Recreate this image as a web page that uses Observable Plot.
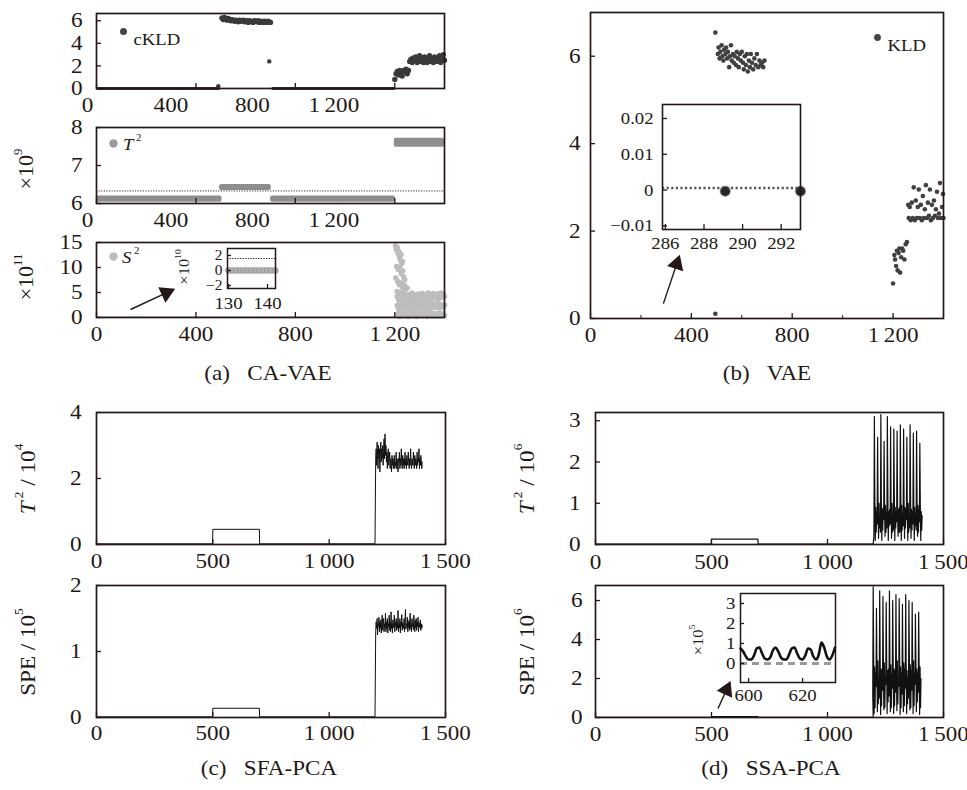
<!DOCTYPE html>
<html><head><meta charset="utf-8">
<script src="https://cdn.jsdelivr.net/npm/d3@7"></script>
<script src="https://cdn.jsdelivr.net/npm/@observablehq/plot@0.6"></script>
<style>
body{margin:0;background:#fff;}
#chart{position:relative;width:967px;height:790px;overflow:hidden;background:#fff;}
#chart svg{position:absolute;left:0;top:0;}
</style></head><body><div id="chart"></div>
<script>
// ---------------- DATA ----------------
// (a) CA-VAE : cKLD
const aXTicks = [0, 400, 800, 1200];
const aKldZeroSegs = [[0, 495], [705, 1200]];
const aKldClusterX = d3.range(505, 701, 5);
const aKldClusterY = [6.25,6.1,6.3,6.15,6.05,6.2,6.1,6.0,6.1,6.05,5.95,6.05,6.0,5.9,6.05,5.95,6.0,6.05,5.9,5.95,6.0,5.85,6.0,5.95,5.9,5.85,6.0,5.95,5.9,6.0,5.85,5.95,5.9,5.85,5.95,5.9,5.85,5.95,5.9,5.85];
const aKldOutX = [490, 695];
const aKldOutY = [0.2, 2.4];
const aKldFaultX = d3.range(1200, 1401, 5);
const aKldFaultY = [0.8,1.3,1.5,1.2,1.6,1.4,1.1,1.6,1.5,1.7,1.3,1.6,2.4,2.6,2.3,2.7,2.5,2.8,2.3,2.6,2.9,2.4,2.7,2.3,2.8,2.5,2.3,2.7,2.9,2.4,2.6,2.3,2.8,2.5,2.4,2.7,2.9,2.3,2.6,3.0,2.5];
// (a) T^2 (x10^9): bands of points
const aT2BandX1 = [0, 495, 700, 1198];
const aT2BandX2 = [505, 703, 1203, 1400];
const aT2BandLo = [6.03, 6.34, 6.03, 7.48];
const aT2BandHi = [6.2, 6.5, 6.2, 7.72];
const aT2Limit = 6.33;
// (a) S^2 (x10^11)
const aS2HighX = [1203,1206,1210,1213,1216,1219,1222,1225,1228,1231,1208,1214,1220,1226,1232,1236,1240,1204,1212,1218,1224,1230,1238,1244,1250,1210,1222,1234,1246];
const aS2HighY = [14.3,13.6,14.0,12.8,13.2,12.1,11.5,12.6,10.8,11.2,10.2,9.6,9.9,8.8,9.3,8.1,7.6,7.9,7.2,6.6,6.9,6.1,6.5,5.7,5.9,5.2,4.9,5.4,4.6];
const aS2BandX = d3.range(1210, 1401, 5);
const aS2Upper = [4.2,3.6,4.8,3.1,4.4,3.9,4.7,3.3,4.1,4.6,3.5,4.3,4.9,3.8,4.5,3.2,4.0,4.7,3.6,4.4,4.8,3.4,4.2,4.6,3.7,4.9,4.1,3.5,4.5,4.8,3.9,4.3,4.7,3.6,4.4,4.9,4.0,4.6,4.2];
const aS2Mid = [2.4,1.8,2.9,2.1,2.6,1.5,3.0,2.2,1.9,2.7,2.3,1.6,2.8,2.0,2.5,1.7,2.9,2.2,2.6,1.9,2.4,2.8,2.1,1.7,2.6,2.3,2.9,1.8,2.5,2.2,2.7,2.0,2.4,2.8,1.9,2.6,2.3,2.1,2.5];
const aS2Low = [0.4,0.9,0.2,0.7,0.5,1.1,0.3,0.8,0.6,0.2,1.0,0.4,0.7,0.3,0.9,0.5,0.2,0.8,0.6,1.1,0.3,0.7,0.4,0.9,0.2,0.6,1.0,0.5,0.3,0.8,0.4,0.7,0.2,0.9,0.5,0.3,0.8,0.6,0.4];
// (a) inset (x10^10)
const aInX = d3.range(130, 143);
const aInY = [0,0,0,0,0,0,0,0,0,0,0,0,0];
const aInLimit = 1.6;
const aArrow = {x1: 137, y1: 1.6, x2: 310, y2: 5.6};

// (b) VAE : KLD
const bXTicks = [0, 400, 800, 1200];
const bXMinor = [200, 600, 1000];
const bOutX = [495, 495];
const bOutY = [0.11, 6.54];
const bClusterX = [505,508,512,515,520,523,527,530,535,538,542,545,550,553,557,560,565,568,572,577,580,585,588,592,596,600,605,608,612,616,620,624,628,632,636,640,645,650,655,660,665,670,675,680,685,690];
const bClusterY = [6.05,6.2,5.95,6.1,6.25,6.0,5.9,6.15,6.05,6.2,5.95,6.1,5.75,6.0,6.25,5.9,6.05,5.85,6.0,5.8,6.1,5.95,5.75,6.05,5.9,6.1,5.85,5.7,6.0,5.8,6.05,5.65,5.9,5.75,6.05,5.85,5.7,5.95,5.8,6.05,5.75,5.9,5.8,5.85,5.75,5.9];
const bFaultX = [1200,1205,1208,1212,1215,1218,1222,1225,1228,1232,1236,1240,1245,1250,1255,1260,1262,1266,1270,1274,1278,1282,1286,1290,1294,1298,1302,1306,1310,1314,1318,1322,1326,1330,1334,1338,1342,1346,1350,1354,1358,1362,1366,1370,1374,1378,1382,1386,1390,1394,1398,1400];
const bFaultY = [0.8,1.45,1.35,1.2,1.55,1.1,1.5,1.6,1.05,1.4,1.6,1.55,1.35,1.7,1.75,2.6,2.3,2.55,2.25,2.65,2.3,3.0,2.25,2.7,2.3,2.55,2.95,2.3,2.6,2.25,2.8,2.3,2.5,3.05,2.3,2.65,2.35,2.95,2.25,2.6,2.3,2.7,2.35,2.5,2.9,2.3,2.4,3.1,2.3,2.55,2.85,2.3];
// (b) inset
const bInLevel = 0.0006;
const bInPtsX = [289.1, 293.0];
const bInPtsY = [-0.0003, -0.0003];
const bArrow = {x1: 289, y1: 0.34, x2: 352, y2: 1.42};

// (c) SFA-PCA
const cdXTicks = [0, 500, 1000, 1500];
const cStepX = [0, 499, 500, 700, 701, 1197];
const cT2StepY = [0.02, 0.02, 0.46, 0.46, 0.02, 0.02];
const cT2Fault = [2.6,2.9,2.4,3.1,2.7,2.3,3.0,2.6,2.9,2.2, 2.8,3.1,2.5,2.9,2.6,3.0,2.4,2.8,3.2,2.6, 3.35,2.7,3.0,2.5,2.8,2.3,2.7,2.9,2.4,2.6, 2.8,2.3,2.6,2.5,2.2,2.7,2.4,2.6,2.3,2.5, 2.7,2.3,2.5,2.4,2.8,2.3,2.6,2.4,2.2,2.6, 2.5,2.8,2.3,2.6,2.4,2.9,2.5,2.3,2.7,2.4, 2.6,2.3,2.5,2.8,2.4,2.6,2.3,2.7,2.5,2.4, 2.8,2.5,2.3,2.6,2.4,2.9,2.5,2.3,2.6,2.5, 2.4,2.8,2.5,2.3,2.7,2.4,2.6,2.5,2.3,2.8, 2.4,2.6,2.5,2.9,2.3,2.6,2.4,2.7,2.5,2.3, 2.5];
const cSpeStepY = [0.01, 0.01, 0.14, 0.14, 0.01, 0.01];
const cSpeFault = [1.3,1.45,1.35,1.5,1.25,1.42,1.38,1.52,1.3,1.45, 1.35,1.48,1.28,1.44,1.55,1.32,1.4,1.5,1.3,1.42, 1.36,1.58,1.3,1.45,1.35,1.5,1.28,1.42,1.38,1.55, 1.32,1.45,1.3,1.6,1.35,1.42,1.28,1.48,1.36,1.4, 1.55,1.3,1.44,1.38,1.5,1.32,1.45,1.35,1.62,1.3, 1.42,1.36,1.5,1.28,1.45,1.38,1.56,1.32,1.44,1.4, 1.35,1.5,1.3,1.46,1.64,1.34,1.42,1.38,1.52,1.3, 1.45,1.36,1.48,1.32,1.58,1.35,1.42,1.3,1.5,1.38, 1.44,1.33,1.55,1.4,1.3,1.47,1.36,1.5,1.32,1.45, 1.38,1.52,1.3,1.44,1.4,1.36,1.48,1.32,1.42,1.35, 1.4];

// (d) SSA-PCA
const dStepX = [0, 499, 500, 700, 701, 1197];
const dT2StepY = [0.01, 0.01, 0.13, 0.13, 0.01, 0.01];
const dT2Fault = [0.2,3.1,1.2,0.1,0.9,0.3,0.8, 0.5,2.6,0.9,0.15,1.0,0.4,0.7, 0.3,3.15,1.1,0.1,0.85,0.35,0.9, 0.6,2.5,1.0,0.2,0.95,0.3,0.75, 0.4,3.1,1.3,0.1,0.8,0.45,0.85, 0.5,2.85,1.0,0.15,1.0,0.3,0.7, 0.35,2.8,1.2,0.1,0.9,0.4,0.8, 0.55,2.75,0.95,0.2,0.85,0.3,0.9, 0.3,2.9,1.15,0.1,0.95,0.35,0.75, 0.45,2.8,1.05,0.15,0.9,0.4,0.85, 0.6,2.6,0.9,0.1,1.0,0.3,0.7, 0.4,2.9,1.2,0.15,0.85,0.35,0.8, 0.5,2.7,1.0,0.1,0.9,0.45,0.75, 0.35,2.75,1.1,0.2,0.95,0.3,0.85, 0.55,2.45,0.95,0.1,0.8,0.35,0.7];
const dSpeStepY = [0.01, 0.01, 0.04, 0.04, 0.01, 0.01];
const dSpeFault = [1.2,6.7,2.9,0.2,2.6,0.5,2.3, 1.6,5.6,2.7,0.3,2.9,0.7,2.0, 1.0,6.5,3.0,0.15,2.5,0.6,2.4, 1.4,6.2,2.6,0.4,2.8,0.5,2.1, 1.7,5.9,2.9,0.2,2.4,0.8,2.5, 1.1,6.5,2.8,0.3,2.7,0.5,2.2, 1.5,6.0,3.0,0.2,2.5,0.6,2.4, 1.3,6.3,2.7,0.35,2.9,0.7,2.0, 1.6,6.1,2.9,0.15,2.6,0.5,2.3, 1.2,5.8,2.6,0.3,2.8,0.6,2.5, 1.5,6.3,3.0,0.2,2.4,0.7,2.1, 1.0,6.0,2.8,0.4,2.7,0.5,2.4, 1.4,5.9,2.7,0.2,2.9,0.6,2.2, 1.7,5.3,2.9,0.3,2.5,0.8,2.3, 1.3,5.4,2.6,0.15,2.6,0.5,2.0];
// (d) inset (x10^5)
const dInX = d3.range(597, 633);
const dInY = [0.75,0.6,0.35,0.2,0.2,0.4,0.75,0.8,0.5,0.25, 0.2,0.3,0.65,0.8,0.6,0.3,0.2,0.2,0.45,0.75, 0.8,0.5,0.25,0.2,0.4,0.75,0.7,0.35,0.2,0.45, 1.05,0.8,0.35,0.2,0.4,0.8];
const dInThreshold = 0;
const dArrow = {x1: 528, y1: 0.46, x2: 579, y2: 1.79};

// ---------------- HELPERS ----------------
const W = 967, H = 790;
const FONT = "'Liberation Serif','Times New Roman',serif";
const INK = "#231815";
const STRETCH = 1.1;
const rows = (xs, ys) => xs.map((x, i) => ({x, y: ys[i]}));
const seq = (x0, step, ys) => ys.map((y, i) => ({x: x0 + i * step, y}));
const fmtNum = d => {
  const s = String(Math.abs(d));
  const t = Math.abs(d) >= 1000 ? s.replace(/(\d)(\d{3})$/, "$1\u2009$2") : s;
  return d < 0 ? "\u2212" + t : t;
};
const chart = document.getElementById("chart");
const svgs = [];

function arrowMarks(box, xd, yd, a) {
  const sx = d3.scaleLinear(xd, [box[0], box[2]]);
  const sy = d3.scaleLinear(yd, [box[3], box[1]]);
  const p1 = [sx(a.x1), sy(a.y1)], p2 = [sx(a.x2), sy(a.y2)];
  const dx = p2[0] - p1[0], dy = p2[1] - p1[1], len = Math.hypot(dx, dy);
  const back = 8;
  const head = {x: sx.invert(p2[0] - dx / len * back), y: sy.invert(p2[1] - dy / len * back)};
  const rot = Math.atan2(dx, -dy) * 180 / Math.PI;
  return [
    Plot.link([a], {x1: "x1", y1: "y1", x2: () => head.x, y2: () => head.y, stroke: INK, strokeWidth: 1.4}),
    Plot.dot([head], {x: "x", y: "y", symbol: "triangle", r: 6.3, fill: INK, stroke: "none", rotate: rot})
  ];
}

function panel(o) {
  const [x0, y0, x1, y1] = o.box;
  const fs = o.fontSize ?? 21;
  const tk = o.tick ?? 5;
  const marks = [];
  if (o.fill) marks.push(Plot.frame({fill: "white", stroke: "none"}));
  marks.push(...o.marks);
  // inward tick marks
  marks.push(Plot.axisX({ticks: o.xTicks, tickSize: tk, dy: -tk, tickFormat: () => "", label: null, stroke: INK, strokeWidth: 1.3}));
  if (o.xMinor) marks.push(Plot.axisX({ticks: o.xMinor, tickSize: 3, dy: -3, tickFormat: () => "", label: null, stroke: INK, strokeWidth: 1}));
  marks.push(Plot.axisY({ticks: o.yTicks, tickSize: tk, dx: tk, tickFormat: () => "", label: null, stroke: INK, strokeWidth: 1.3}));
  // tick labels
  if (o.xShift) {
    o.xTicks.forEach((v, i) => marks.push(Plot.axisX({ticks: [v], tickSize: 0, tickPadding: o.padX ?? 9, dx: o.xShift[i], tickFormat: fmtNum, fontSize: fs, label: null})));
  } else {
    marks.push(Plot.axisX({ticks: o.xTicks, tickSize: 0, tickPadding: o.padX ?? 9, tickFormat: fmtNum, fontSize: fs, label: null}));
  }
  marks.push(Plot.axisY({ticks: o.yTicks, tickSize: 0, tickPadding: o.padY ?? 14, tickFormat: fmtNum, fontSize: o.yFontSize ?? fs, label: null}));
  marks.push(Plot.frame({stroke: INK, strokeWidth: o.frameWidth ?? 1.7}));
  const svg = Plot.plot({
    width: W, height: H,
    marginLeft: x0, marginTop: y0, marginRight: W - x1, marginBottom: H - y1,
    x: {domain: o.xDomain, axis: null},
    y: {domain: o.yDomain, axis: null},
    style: {background: "none", fontFamily: FONT, fontSize: fs + "px", color: INK, overflow: "visible"},
    marks
  });
  chart.append(svg);
  svgs.push(svg);
  return svg;
}

function rich(svg, {x, y, parts, size = 21, anchor = "middle", rotate = 0}) {
  const t = d3.select(svg).append("text")
    .attr("transform", `translate(${x},${y}) rotate(${rotate})`)
    .attr("text-anchor", anchor).attr("font-size", size).attr("font-family", FONT)
    .attr("fill", INK).attr("dominant-baseline", "central").style("white-space", "pre");
  let shift = 0;
  for (const p of parts) {
    const s = t.append("tspan").text(p.t);
    if (p.i) s.attr("font-style", "italic");
    const target = p.sup ? -size * 0.42 : 0;
    if (target !== shift) { s.attr("dy", target - shift); shift = target; }
    if (p.sup) s.attr("font-size", size * 0.58);
  }
}

// ---------------- PANELS ----------------
const shiftA = [-9, -25, -43, -61];

// (a) top: cKLD
const boxA1 = [96, 13, 444, 88];
panel({box: boxA1, xDomain: [0, 1400], yDomain: [0, 6.64], xTicks: aXTicks, yTicks: [0, 2, 4, 6], xShift: shiftA, padX: 9, marks: [
  Plot.link(aKldZeroSegs, {x1: d => d[0], x2: d => d[1], y1: 0, y2: 0, stroke: "#333", strokeWidth: 3}),
  Plot.dot(rows(aKldClusterX, aKldClusterY), {x: "x", y: "y", r: 2.7, fill: "#3a3a3a"}),
  Plot.dot(rows(aKldOutX, aKldOutY), {x: "x", y: "y", r: 2.2, fill: "#3a3a3a"}),
  Plot.dot(rows(aKldFaultX, aKldFaultY), {x: "x", y: "y", r: 2.7, fill: "#3a3a3a"}),
  Plot.dot([0], {frameAnchor: "top-left", dx: 27, dy: 18, r: 3.5, fill: "#444"}),
  Plot.text(["cKLD"], {frameAnchor: "top-left", dx: 37, dy: 19, textAnchor: "start", fontSize: 17, fill: INK})
]});

// (a) middle: T^2
const boxA2 = [96, 127, 444, 203];
const svgA2 = panel({box: boxA2, xDomain: [0, 1400], yDomain: [6, 8], xTicks: aXTicks, yTicks: [6, 7, 8], xShift: shiftA, padX: 9, marks: [
  Plot.rect(aT2BandX1.map((x, i) => ({x1: x, x2: aT2BandX2[i], y1: aT2BandLo[i], y2: aT2BandHi[i]})), {x1: "x1", x2: "x2", y1: "y1", y2: "y2", fill: "#8e8e8e", rx: 2}),
  Plot.ruleY([aT2Limit], {stroke: "#333", strokeWidth: 1, strokeDasharray: "1.2,1.4"}),
  Plot.dot([0], {frameAnchor: "top-left", dx: 17, dy: 16, r: 4.2, fill: "#9a9a9a"})
]});
rich(svgA2, {x: 123, y: 144, anchor: "start", size: 17, parts: [{t: "T", i: true}, {t: " 2", sup: true}]});
rich(svgA2, {x: 26, y: 169, rotate: -90, size: 20, parts: [{t: "×10"}, {t: "9", sup: true}]});

// (a) bottom: S^2
const boxA3 = [96, 242, 444, 317];
const svgA3 = panel({box: boxA3, xDomain: [0, 1400], yDomain: [0, 15], xTicks: aXTicks, yTicks: [0, 5, 10, 15], padX: 9, marks: [
  Plot.link([[0, 1200]], {x1: d => d[0], x2: d => d[1], y1: 0.1, y2: 0.1, stroke: "#ccc", strokeWidth: 2}),
  Plot.dot(rows(aS2BandX, aS2Low), {x: "x", y: "y", r: 2.8, fill: "#bdbdbd"}),
  Plot.dot(rows(aS2BandX, aS2Mid), {x: "x", y: "y", r: 2.8, fill: "#bdbdbd"}),
  Plot.dot(rows(aS2BandX, aS2Upper), {x: "x", y: "y", r: 2.8, fill: "#bdbdbd"}),
  Plot.dot(rows(aS2HighX, aS2HighY), {x: "x", y: "y", r: 2.8, fill: "#bdbdbd"}),
  Plot.dot([0], {frameAnchor: "top-left", dx: 17, dy: 14, r: 4.2, fill: "#bdbdbd"}),
  ...arrowMarks(boxA3, [0, 1400], [0, 15], aArrow)
]});
rich(svgA3, {x: 122, y: 257, anchor: "start", size: 17, parts: [{t: "S", i: true}, {t: " 2", sup: true}]});
rich(svgA3, {x: 26, y: 277, rotate: -90, size: 20, parts: [{t: "×10"}, {t: "11", sup: true}]});

// (a) inset
const boxAIn = [227, 248, 275, 288];
const svgAIn = panel({box: boxAIn, xDomain: [129.74, 142.05], yDomain: [-2.4, 2.93], xTicks: [130, 140], yTicks: [-2, 0, 2], fill: true, fontSize: 17, yFontSize: 14, tick: 4, padX: 8, padY: 5, frameWidth: 1.5, marks: [
  Plot.ruleY([aInLimit], {stroke: "#222", strokeWidth: 1.2, strokeDasharray: "1.3,1.3"}),
  Plot.dot(rows(aInX, aInY), {x: "x", y: "y", r: 3, fill: "#b0b0b0", stroke: "#8a8a8a", strokeWidth: 0.6})
]});
rich(svgAIn, {x: 184, y: 267, rotate: -90, size: 15, parts: [{t: "×10"}, {t: "10", sup: true}]});

// (b) VAE
const boxB = [590, 12, 943, 318];
panel({box: boxB, xDomain: [0, 1400], yDomain: [0, 7], xTicks: bXTicks, xMinor: bXMinor, yTicks: [0, 2, 4, 6], padX: 9, padY: 10, marks: [
  Plot.dot(rows(bClusterX, bClusterY), {x: "x", y: "y", r: 2.3, fill: "#404040"}),
  Plot.dot(rows(bOutX, bOutY), {x: "x", y: "y", r: 2.3, fill: "#404040"}),
  Plot.dot(rows(bFaultX, bFaultY), {x: "x", y: "y", r: 2.3, fill: "#404040"}),
  Plot.dot([0], {frameAnchor: "top-left", dx: 287, dy: 25, r: 3.4, fill: "#444"}),
  Plot.text(["KLD"], {frameAnchor: "top-left", dx: 297, dy: 26, textAnchor: "start", fontSize: 17, fill: INK}),
  ...arrowMarks(boxB, [0, 1400], [0, 7], bArrow)
]});

// (b) inset
const boxBIn = [662, 104, 800, 229];
panel({box: boxBIn, xDomain: [285.85, 293.0], yDomain: [-0.011, 0.0239], xTicks: [286, 288, 290, 292], yTicks: [-0.01, 0, 0.01, 0.02], fill: true, fontSize: 17, tick: 5, padX: 7, padY: 9, frameWidth: 1.6, marks: [
  Plot.ruleY([bInLevel], {stroke: "#555", strokeWidth: 2.6, strokeDasharray: "2.2,2.4"}),
  Plot.dot(rows(bInPtsX, bInPtsY), {x: "x", y: "y", r: 5, fill: "#262626", stroke: "#777", strokeOpacity: 0.5, strokeWidth: 1.5})
]});

// (c) top: T^2/10^4
const boxC1 = [96, 412, 445, 544];
const svgC1 = panel({box: boxC1, xDomain: [0, 1500], yDomain: [0, 4], xTicks: cdXTicks, yTicks: [0, 2, 4], padX: 9, padY: 15, marks: [
  Plot.line([...rows(cStepX, cT2StepY), ...seq(1200, 2, cT2Fault)], {x: "x", y: "y", stroke: "#111", strokeWidth: 1})
]});
rich(svgC1, {x: 28, y: 479, rotate: -90, size: 21, parts: [{t: "T", i: true}, {t: " 2", sup: true}, {t: " / 10"}, {t: "4", sup: true}]});

// (c) bottom: SPE/10^5
const boxC2 = [96, 585, 445, 717];
const svgC2 = panel({box: boxC2, xDomain: [0, 1500], yDomain: [0, 2], xTicks: cdXTicks, yTicks: [0, 1, 2], padX: 8, padY: 15, marks: [
  Plot.line([...rows(cStepX, cSpeStepY), ...seq(1200, 2, cSpeFault)], {x: "x", y: "y", stroke: "#111", strokeWidth: 1})
]});
rich(svgC2, {x: 28, y: 652, rotate: -90, size: 21, parts: [{t: "SPE / 10"}, {t: "5", sup: true}]});

// (d) top: T^2/10^6
const boxD1 = [595, 412, 943, 544];
const svgD1 = panel({box: boxD1, xDomain: [0, 1500], yDomain: [0, 3.2], xTicks: cdXTicks, yTicks: [0, 1, 2, 3], padX: 10, padY: 15, marks: [
  Plot.line([...rows(dStepX, dT2StepY), ...seq(1200, 2, dT2Fault)], {x: "x", y: "y", stroke: "#111", strokeWidth: 1.2})
]});
rich(svgD1, {x: 527, y: 479, rotate: -90, size: 21, parts: [{t: "T", i: true}, {t: " 2", sup: true}, {t: " / 10"}, {t: "6", sup: true}]});

// (d) bottom: SPE/10^6
const boxD2 = [595, 585, 943, 717];
const svgD2 = panel({box: boxD2, xDomain: [0, 1500], yDomain: [0, 6.77], xTicks: cdXTicks, yTicks: [0, 2, 4, 6], padX: 9, padY: 13, marks: [
  Plot.line([...rows(dStepX, dSpeStepY), ...seq(1195, 2, dSpeFault)], {x: "x", y: "y", stroke: "#111", strokeWidth: 1.2}),
  ...arrowMarks(boxD2, [0, 1500], [0, 6.77], dArrow)
]});
rich(svgD2, {x: 527, y: 652, rotate: -90, size: 21, parts: [{t: "SPE / 10"}, {t: "6", sup: true}]});

// (d) inset
const boxDIn = [740, 593, 835, 682];
const svgDIn = panel({box: boxDIn, xDomain: [597, 632.2], yDomain: [-0.95, 3.5], xTicks: [600, 620], yTicks: [0, 1, 2, 3], fill: true, fontSize: 17, tick: 4, padX: 6, padY: 5, frameWidth: 1.5, marks: [
  Plot.ruleY([dInThreshold], {stroke: "#9a9a9a", strokeWidth: 3, strokeDasharray: "7,5"}),
  Plot.line(rows(dInX, dInY), {x: "x", y: "y", stroke: "#111", strokeWidth: 2.6, curve: "monotone-x"})
]});
rich(svgDIn, {x: 698, y: 640, rotate: -90, size: 15, parts: [{t: "×10"}, {t: "5", sup: true}]});

// captions
rich(svgD2, {x: 268, y: 373, size: 21, parts: [{t: "(a)   CA-VAE"}]});
rich(svgD2, {x: 767, y: 373, size: 21, parts: [{t: "(b)   VAE"}]});
rich(svgD2, {x: 269, y: 768, size: 21, parts: [{t: "(c)   SFA-PCA"}]});
rich(svgD2, {x: 771, y: 768, size: 21, parts: [{t: "(d)   SSA-PCA"}]});

// horizontal widening of the serif glyphs, as in the reference
for (const svg of svgs) {
  for (const t of svg.querySelectorAll("text")) {
    const L = t.getComputedTextLength();
    if (L > 0) {
      t.setAttribute("textLength", (L * STRETCH).toFixed(1));
      t.setAttribute("lengthAdjust", "spacingAndGlyphs");
    }
  }
}
</script></body></html>
